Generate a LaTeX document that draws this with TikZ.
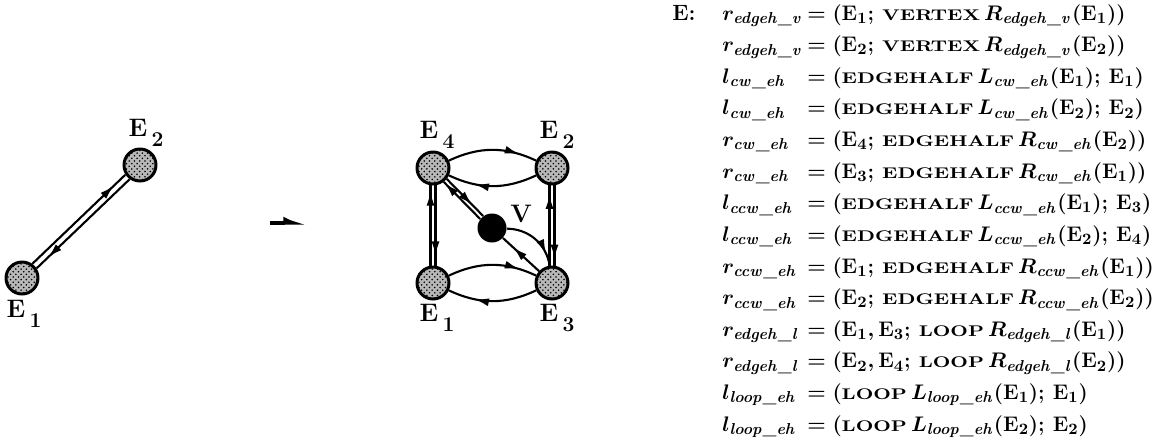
\documentclass[tikz,border=0pt]{standalone}
\usepackage{amsmath, amssymb}
\usepackage{xcolor}
\usepackage{tikz}
\usetikzlibrary{arrows.meta, patterns, decorations.markings}

\newcommand{\kw}[1]{\text{\fontsize{8.8}{10}\selectfont\bfseries\scalebox{1.28}[1]{#1}}}
\newcommand{\Ei}[1]{\mathrm{E}_{#1}}
\newcommand{\ix}[1]{_{\mathit{#1}}}
\newcommand{\elabel}[1]{E\,\raisebox{-0.9ex}{\large #1}}

\tikzset{
  ehalf/.style={draw, circle, line width=1.7pt, minimum size=0.64cm, inner sep=0pt,
    preaction={fill=black!28}, pattern=crosshatch dots},
  vert/.style={circle, fill=black, minimum size=0.58cm, inner sep=0pt},
  lbl/.style={font=\Large\bfseries, inner sep=0pt},
  half/.style={line width=1.2pt, postaction={decorate},
    decoration={markings, mark=at position #1 with {\arrow{Latex[length=2.9mm,width=1.6mm]}}}},
  half/.default=0.75,
  eqtext/.style={font=\fontsize{12.6}{18}\selectfont\bfseries\boldmath, inner sep=0pt}
}

\begin{document}
\begin{tikzpicture}[x=0.02cm, y=-0.02cm]
  \useasboundingbox (0,0) rectangle (1170,443);

  % the edge
  \node[ehalf] (a1) at (22,278) {};
  \node[ehalf] (a2) at (140,165) {};
  \node[lbl] (a1l) at (24,314) {\elabel{1}};
  \node[lbl] (a2l) at (146,133) {\elabel{2}};
  \draw[half=0.88, transform canvas={shift={(-2.2,-2.2)}}] (a1) -- (a2);
  \draw[half=0.88, transform canvas={shift={(2.2,2.2)}}] (a2) -- (a1);

  % maps to
  \coordinate (mfrom) at (270,223);
  \coordinate (mto) at (307,223);
  \draw[line width=2.2pt, -{Latex[left,length=3.4mm,width=2.6mm]}] (mfrom) -- (mto);

  % edge halves round the vertex
  \node[ehalf] (b4) at (433,168) {};
  \node[ehalf] (b2) at (552,168) {};
  \node[ehalf] (b1) at (433,283) {};
  \node[ehalf] (b3) at (552,283) {};
  \node[vert] (v) at (492,228) {};
  \node[lbl] (b4l) at (437,135) {\elabel{4}};
  \node[lbl] (b2l) at (557,135) {\elabel{2}};
  \node[lbl] (b1l) at (437,318) {\elabel{1}};
  \node[lbl] (b3l) at (557,318) {\elabel{3}};
  \node[lbl] (vl) at (521,214) {V};

  \draw[half=0.8] (b4) to[bend left=25] (b2);
  \draw[half=0.7] (b2) to[bend left=25] (b4);
  \draw[half=0.8] (b1) to[bend left=25] (b3);
  \draw[half=0.7] (b3) to[bend left=25] (b1);
  \draw[half=0.93, transform canvas={xshift=-0.05cm}] (b1) -- (b4);
  \draw[half=0.88, transform canvas={xshift=0.05cm}] (b4) -- (b1);
  \draw[half=0.89, transform canvas={xshift=-0.05cm}] (b3) -- (b2);
  \draw[half=0.92, transform canvas={xshift=0.05cm}] (b2) -- (b3);
  \draw[half=0.7, transform canvas={shift={(1.5,-1.5)}}] (b4) -- (v);
  \draw[half=0.97, transform canvas={shift={(-1.5,1.5)}}] (v) -- (b4);
  \draw[half=0.72] (b3) -- (v);
  \draw[half=0.8] (v) to[bend left=40] (b3);

  % relations
  \node[eqtext, anchor=base west] (eqs) at (672,20) {%
    \begin{tabular}[t]{@{}p{1.0cm}@{}p{1.7cm}@{}l@{}}
      E: & $r\ix{edgeh\_v}$ & $= (\Ei1;\,\kw{VERTEX}\,R\ix{edgeh\_v}(\Ei1))$\\
         & $r\ix{edgeh\_v}$ & $= (\Ei2;\,\kw{VERTEX}\,R\ix{edgeh\_v}(\Ei2))$\\
         & $l\ix{cw\_eh}$ & $= (\kw{EDGEHALF}\,L\ix{cw\_eh}(\Ei1);\,\Ei1)$\\
         & $l\ix{cw\_eh}$ & $= (\kw{EDGEHALF}\,L\ix{cw\_eh}(\Ei2);\,\Ei2)$\\
         & $r\ix{cw\_eh}$ & $= (\Ei4;\,\kw{EDGEHALF}\,R\ix{cw\_eh}(\Ei2))$\\
         & $r\ix{cw\_eh}$ & $= (\Ei3;\,\kw{EDGEHALF}\,R\ix{cw\_eh}(\Ei1))$\\
         & $l\ix{ccw\_eh}$ & $= (\kw{EDGEHALF}\,L\ix{ccw\_eh}(\Ei1);\,\Ei3)$\\
         & $l\ix{ccw\_eh}$ & $= (\kw{EDGEHALF}\,L\ix{ccw\_eh}(\Ei2);\,\Ei4)$\\
         & $r\ix{ccw\_eh}$ & $= (\Ei1;\,\kw{EDGEHALF}\,R\ix{ccw\_eh}(\Ei1))$\\
         & $r\ix{ccw\_eh}$ & $= (\Ei2;\,\kw{EDGEHALF}\,R\ix{ccw\_eh}(\Ei2))$\\
         & $r\ix{edgeh\_l}$ & $= (\Ei1, \Ei3;\,\kw{LOOP}\,R\ix{edgeh\_l}(\Ei1))$\\
         & $r\ix{edgeh\_l}$ & $= (\Ei2, \Ei4;\,\kw{LOOP}\,R\ix{edgeh\_l}(\Ei2))$\\
         & $l\ix{loop\_eh}$ & $= (\kw{LOOP}\,L\ix{loop\_eh}(\Ei1);\,\Ei1)$\\
         & $l\ix{loop\_eh}$ & $= (\kw{LOOP}\,L\ix{loop\_eh}(\Ei2);\,\Ei2)$
    \end{tabular}};
\end{tikzpicture}
\end{document}
